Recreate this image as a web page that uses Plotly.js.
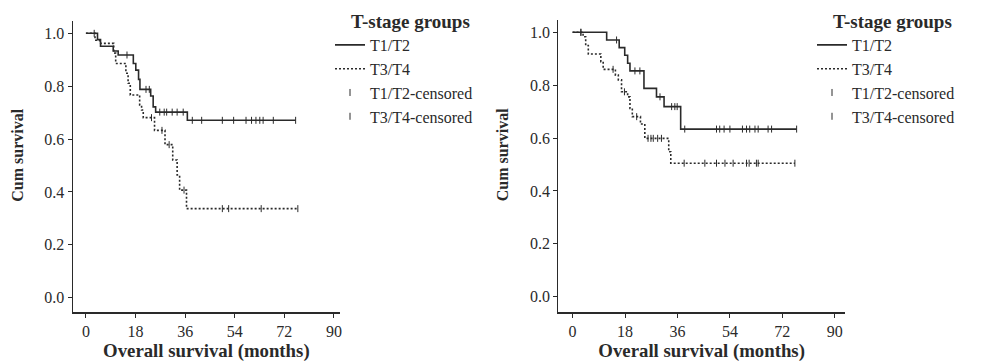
<!DOCTYPE html>
<html><head><meta charset="utf-8">
<script src="https://cdn.plot.ly/plotly-3.0.1.min.js"></script>
<style>html,body{margin:0;padding:0;background:#fff}#chart{width:1000px;height:364px}</style>
</head><body><div id="chart"></div>
<script>
// ---- Data ----
const xTickVals = [0, 18, 36, 54, 72, 90];
const yTickVals = [0, 0.2, 0.4, 0.6, 0.8, 1.0];
const groupNames = ['T1/T2', 'T3/T4'];
const censorNames = ['T1/T2-censored', 'T3/T4-censored'];

// Left chart
const leftT12Time = [0, 4.2, 5.3, 9.9, 11.7, 17.2, 18.1, 19.1, 19.6, 23.5, 24.4, 25.3, 36.8, 76.1];
const leftT12Surv = [1.0, 0.976, 0.951, 0.933, 0.918, 0.886, 0.861, 0.826, 0.788, 0.763, 0.722, 0.702, 0.671, 0.671];
const leftT12CensTime = [3.0, 14.9, 21.8, 23.0, 26.8, 28.4, 29.3, 31.3, 33.1, 35.3, 38.6, 42.0, 49.5, 53.6, 58.1, 60.1, 61.7, 63.1, 64.3, 68.0, 76.1];
const leftT12CensSurv = [1.0, 0.918, 0.788, 0.788, 0.702, 0.702, 0.702, 0.702, 0.702, 0.702, 0.671, 0.671, 0.671, 0.671, 0.671, 0.671, 0.671, 0.671, 0.671, 0.671, 0.671];

const leftT34Time = [0, 3.3, 5.0, 10.1, 10.8, 14.5, 15.3, 16.1, 19.5, 20.2, 20.8, 24.9, 28.7, 31.5, 33.1, 34.0, 36.5, 76.9];
const leftT34Surv = [1.0, 0.974, 0.962, 0.925, 0.886, 0.849, 0.811, 0.767, 0.729, 0.71, 0.681, 0.633, 0.579, 0.521, 0.464, 0.407, 0.337, 0.337];
const leftT34CensTime = [23.8, 27.6, 30.2, 35.6, 49.5, 51.8, 63.6, 76.9];
const leftT34CensSurv = [0.681, 0.633, 0.579, 0.407, 0.337, 0.337, 0.337, 0.337];

// Right chart
const rightT12Time = [0, 11.7, 16.0, 17.9, 18.9, 19.7, 24.5, 28.8, 31.4, 37.1, 76.9];
const rightT12Surv = [1.0, 0.971, 0.942, 0.913, 0.883, 0.854, 0.788, 0.756, 0.719, 0.634, 0.634];
const rightT12CensTime = [2.85, 15.1, 21.4, 23.1, 30.0, 34.0, 35.1, 35.9, 38.5, 49.4, 50.5, 52.0, 54.0, 58.3, 59.7, 60.8, 62.6, 63.7, 67.1, 68.3, 76.9];
const rightT12CensSurv = [1.0, 0.971, 0.854, 0.854, 0.756, 0.719, 0.719, 0.719, 0.634, 0.634, 0.634, 0.634, 0.634, 0.634, 0.634, 0.634, 0.634, 0.634, 0.634, 0.634, 0.634];

const rightT34Time = [0, 3.6, 4.5, 5.4, 9.7, 10.5, 14.7, 15.7, 16.8, 18.9, 19.7, 20.5, 23.3, 24.8, 33.0, 33.7, 76.3];
const rightT34Surv = [1.0, 0.983, 0.95, 0.918, 0.889, 0.860, 0.838, 0.82, 0.775, 0.756, 0.712, 0.681, 0.653, 0.599, 0.548, 0.505, 0.505];
const rightT34CensTime = [2.85, 13.9, 17.8, 22.0, 25.9, 26.9, 27.7, 29.2, 30.5, 38.3, 45.4, 49.4, 52.3, 55.1, 59.7, 60.6, 63.1, 63.7, 76.3];
const rightT34CensSurv = [1.0, 0.860, 0.775, 0.681, 0.599, 0.599, 0.599, 0.599, 0.599, 0.505, 0.505, 0.505, 0.505, 0.505, 0.505, 0.505, 0.505, 0.505, 0.505];

const xTitle = 'Overall survival (months)';
const yTitle = 'Cum survival';
const legendTitle = 'T-stage groups';

// ---- Styling ----
const FONT = '"Liberation Serif", "Times New Roman", serif';
const INK = '#2a2a2a';

function curve(x, y, name, dash, xa, ya, leg) {
  return {type: 'scatter', mode: 'lines', x, y, name, xaxis: xa, yaxis: ya, legend: leg,
    line: {shape: 'hv', color: INK, width: 1.6, dash: dash}, hoverinfo: 'skip'};
}
function censor(x, y, name, xa, ya, leg) {
  return {type: 'scatter', mode: 'markers', x, y, name, xaxis: xa, yaxis: ya, legend: leg,
    marker: {symbol: 'line-ns-open', size: 5, color: INK, line: {color: INK, width: 1}}, hoverinfo: 'skip'};
}

const data = [
  curve(leftT12Time, leftT12Surv, groupNames[0], 'solid', 'x', 'y', 'legend'),
  curve(leftT34Time, leftT34Surv, groupNames[1], '2px,2px', 'x', 'y', 'legend'),
  censor(leftT12CensTime, leftT12CensSurv, censorNames[0], 'x', 'y', 'legend'),
  censor(leftT34CensTime, leftT34CensSurv, censorNames[1], 'x', 'y', 'legend'),
  curve(rightT12Time, rightT12Surv, groupNames[0], 'solid', 'x2', 'y2', 'legend2'),
  curve(rightT34Time, rightT34Surv, groupNames[1], '2px,2px', 'x2', 'y2', 'legend2'),
  censor(rightT12CensTime, rightT12CensSurv, censorNames[0], 'x2', 'y2', 'legend2'),
  censor(rightT34CensTime, rightT34CensSurv, censorNames[1], 'x2', 'y2', 'legend2')
];

function xAxis(domain, anchor, range) {
  return {domain, anchor, range, tickvals: xTickVals, showline: true, linecolor: INK, linewidth: 1.2,
    ticks: 'outside', ticklen: 4, tickcolor: INK, tickwidth: 1, showgrid: false, zeroline: false,
    tickfont: {family: FONT, size: 16, color: INK},
    title: {text: xTitle, font: {family: FONT, size: 18.8, color: INK, weight: 'bold'}, standoff: 5},
    fixedrange: true};
}
function yAxis(domain, anchor, range) {
  return {domain, anchor, range, tickvals: yTickVals, tickformat: '.1f', showline: true, linecolor: INK, linewidth: 1.2,
    ticks: 'outside', ticklen: 4, tickcolor: INK, tickwidth: 1, showgrid: false, zeroline: false,
    tickfont: {family: FONT, size: 16, color: INK},
    fixedrange: true};
}
function legendBox(x) {
  return {x, xanchor: 'left', y: 0.991, yanchor: 'top', bgcolor: 'rgba(0,0,0,0)', borderwidth: 0,
    font: {family: FONT, size: 16, color: INK}, tracegroupgap: 0, itemwidth: 30,
    title: {text: '\u00a0\u00a0\u00a0\u00a0' + legendTitle, font: {family: FONT, size: 19, color: INK, weight: 'bold'}}};
}
function yTitleNote(x) {
  return {text: yTitle, textangle: -90, xref: 'paper', yref: 'paper', x, y: 1 - 155 / 364,
    xanchor: 'center', yanchor: 'middle', showarrow: false,
    font: {family: FONT, size: 16, color: INK, weight: 'bold'}};
}

const layout = {
  width: 1000, height: 364,
  margin: {l: 0, r: 0, t: 0, b: 0},
  paper_bgcolor: '#ffffff', plot_bgcolor: '#ffffff',
  showlegend: true,
  xaxis: xAxis([0.0727, 0.340], 'y', [-4.8, 92.2]),
  yaxis: yAxis([0.1415, 0.9431], 'x', [-0.0558, 1.0477]),
  xaxis2: xAxis([0.5583, 0.845], 'y2', [-4.9, 93.5]),
  yaxis2: yAxis([0.142, 0.945], 'x2', [-0.059, 1.0465]),
  legend: legendBox(0.330),
  legend2: legendBox(0.812),
  annotations: [yTitleNote(0.0167), yTitleNote(0.5023)]
};

Plotly.newPlot('chart', data, layout, {staticPlot: true, displayModeBar: false});
</script></body></html>
